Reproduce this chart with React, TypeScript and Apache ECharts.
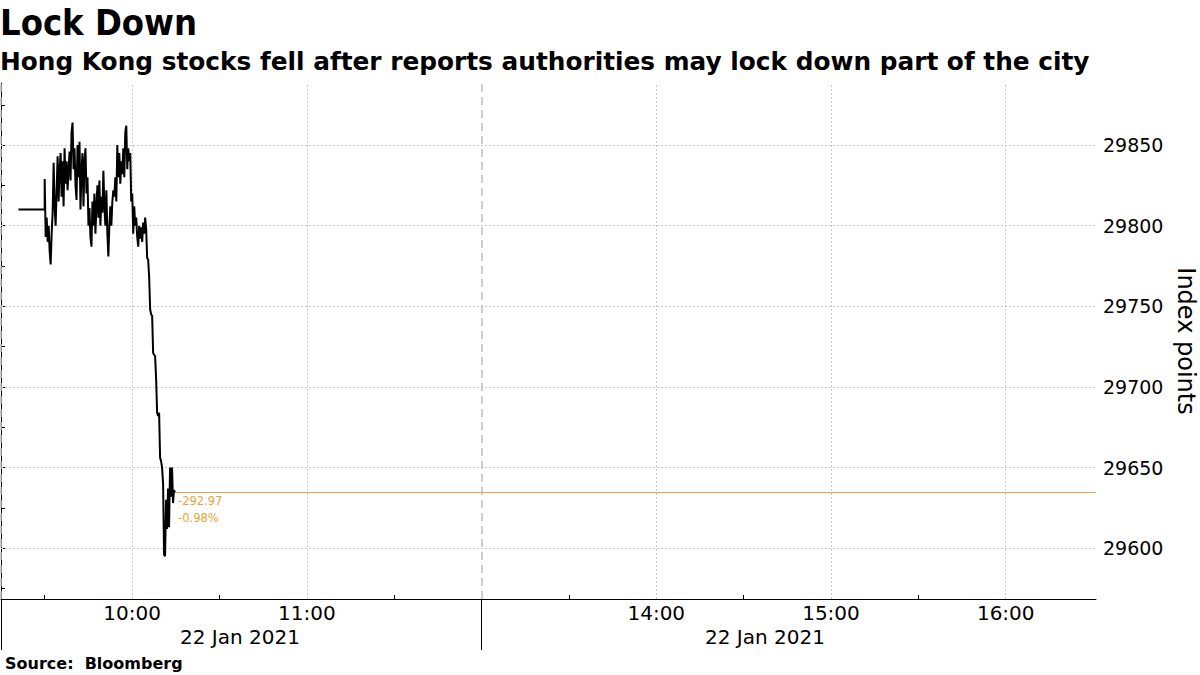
import React, { useEffect, useRef } from 'react';
import * as echarts from 'echarts';

// ---- texts ----
const TITLE = 'Lock Down';
const SUBTITLE = 'Hong Kong stocks fell after reports authorities may lock down part of the city';
const SOURCE = 'Source:  Bloomberg';
const DATE_LABEL = '22 Jan 2021';
const AXIS_NAME = 'Index points';

// ---- data ----
const PREV_CLOSE = 29927.76;
const PRE_OPEN_TIMES = ['09:21', '09:30'];
const PRE_OPEN_VALUES = [29810, 29810];
const TRADE_START = '09:30';
const SAMPLE_SECONDS = 20.5;
const prices = [
  29829, 29793, 29805, 29790, 29800, 29784, 29776, 29795, 29808, 29839,
  29812, 29800, 29822, 29843, 29815, 29835, 29845, 29818, 29840, 29812,
  29848, 29826, 29840, 29822, 29835, 29846, 29828, 29858, 29864, 29835,
  29848, 29825, 29816, 29850, 29830, 29852, 29810, 29835, 29845, 29812,
  29840, 29848, 29820, 29830, 29800, 29811, 29793, 29787, 29815, 29800,
  29820, 29795, 29812, 29825, 29805, 29828, 29800, 29818, 29808, 29834,
  29812, 29800, 29822, 29795, 29781, 29800, 29812, 29800, 29815, 29822,
  29818, 29830, 29815, 29850, 29830, 29845, 29826, 29840, 29832, 29848,
  29830, 29858, 29862, 29835, 29848, 29840, 29845, 29815, 29820, 29795,
  29812, 29800, 29805, 29793, 29787, 29800, 29792, 29799, 29790, 29802,
  29795, 29805, 29798, 29780, 29779, 29768, 29748, 29745, 29744, 29721,
  29720, 29719, 29705, 29684, 29682, 29684, 29656, 29654, 29650, 29640,
  29596, 29595, 29630, 29612, 29637, 29613, 29650, 29632, 29650, 29628,
  29636, 29634.79,
];

// ---- axes ----
const AXIS_START = '09:15';
const AXIS_END = '16:31';
const LUNCH_START = '12:00';
const LUNCH_END = '13:00';
const hourLabels = ['10:00', '11:00', '14:00', '15:00', '16:00'];
const halfHourTicks = ['09:30', '10:30', '11:30', '13:30', '14:30', '15:30'];
const sessionStarts = ['09:15', '13:00'];
const yLabelValues = [29600, 29650, 29700, 29750, 29800, 29850];
const yTickValues = [29575, 29600, 29625, 29650, 29675, 29700, 29725, 29750, 29775, 29800, 29825, 29850, 29875];
const Y_MIN = 29568.5;
const Y_MAX = 29888.5;

const FONT = '"DejaVu Sans", sans-serif';
const FONT_COND = '"DejaVu Sans Condensed", "DejaVu Sans", sans-serif';
const ORANGE = '#E8A33D';

const clock = (s: string) => {
  const [h, m] = s.split(':').map(Number);
  return h * 60 + m;
};
const BASE = clock(AXIS_START);
const LUNCH = clock(LUNCH_END) - clock(LUNCH_START);
const toAxis = (s: string) => {
  const m = clock(s);
  return m >= clock(LUNCH_END) ? m - BASE - LUNCH : m - BASE;
};
const fromAxis = (v: number) => {
  let m = v + BASE;
  if (m > clock(LUNCH_START) + 0.001) m += LUNCH;
  m = Math.round(m);
  const h = Math.floor(m / 60);
  const mm = m % 60;
  return `${String(h).padStart(2, '0')}:${String(mm).padStart(2, '0')}`;
};

export default function App() {
  const ref = useRef<HTMLDivElement>(null);
  useEffect(() => {
    if (!ref.current) return;
    const chart = echarts.init(ref.current, null, { renderer: 'svg' });

    const preData = PRE_OPEN_TIMES.map((t, i) => [toAxis(t), PRE_OPEN_VALUES[i]]);
    const t0 = toAxis(TRADE_START);
    const tradeData = prices.map((v, i) => [t0 + (i * SAMPLE_SECONDS) / 60, v]);
    const lineData = [...preData, ...tradeData];
    const last = tradeData[tradeData.length - 1];
    const change = last[1] - PREV_CLOSE;
    const pct = (change / PREV_CLOSE) * 100;
    const xMax = toAxis(AXIS_END);

    const gridStyle = { color: '#cacaca', width: 1, type: [2, 2] as any };
    const sessionStyle = { color: '#bdbdbd', width: 1.5, type: [8, 5] as any };

    chart.setOption({
      animation: false,
      backgroundColor: '#fff',
      grid: { left: 1, right: 104, top: 83, bottom: 76, containLabel: false, outerBoundsMode: 'none' },
      xAxis: {
        type: 'value',
        min: 0,
        max: xMax,
        axisLine: { show: true, lineStyle: { color: '#000', width: 1 } },
        axisTick: {
          show: true,
          inside: true,
          length: 4,
          customValues: halfHourTicks.map(toAxis),
          lineStyle: { color: '#000', width: 1 },
        },
        axisLabel: {
          customValues: hourLabels.map(toAxis),
          formatter: (v: number) => fromAxis(v),
          color: '#000',
          fontSize: 20,
          fontFamily: FONT,
          margin: 4,
        },
        splitLine: { show: false },
      },
      yAxis: {
        type: 'value',
        position: 'right',
        min: Y_MIN,
        max: Y_MAX,
        name: AXIS_NAME,
        nameLocation: 'middle',
        nameRotate: -90,
        nameGap: 76,
        nameTextStyle: { color: '#000', fontSize: 24, fontFamily: FONT },
        axisLine: { show: true, lineStyle: { color: '#000', width: 1 } },
        axisTick: {
          show: true,
          inside: false,
          length: 4,
          customValues: yTickValues,
          lineStyle: { color: '#000', width: 1 },
        },
        axisLabel: {
          customValues: yLabelValues,
          formatter: (v: number) => String(v),
          color: '#000',
          fontSize: 19,
          fontFamily: FONT,
          margin: 7,
        },
        splitLine: { show: false },
      },
      series: [
        {
          type: 'line',
          z: 1,
          data: [],
          silent: true,
          markLine: {
            silent: true,
            z: 1,
            symbol: ['none', 'none'],
            label: { show: false },
            data: [
              ...yLabelValues.map((v) => ({ yAxis: v, lineStyle: gridStyle })),
              ...hourLabels.map((h) => ({ xAxis: toAxis(h), lineStyle: gridStyle })),
              ...sessionStarts.map((h) => ({ xAxis: toAxis(h), lineStyle: sessionStyle })),
            ],
          },
        },
        {
          type: 'line',
          z: 3,
          data: lineData,
          showSymbol: false,
          symbol: 'none',
          lineStyle: { color: '#000', width: 2 },
          markLine: {
            silent: true,
            z: 2,
            symbol: ['none', 'none'],
            label: { show: false },
            lineStyle: { color: ORANGE, width: 1, type: 'solid' },
            data: [[{ coord: [last[0], last[1]] }, { coord: [xMax, last[1]] }]],
          },
          markPoint: {
            silent: true,
            symbol: 'circle',
            symbolSize: 0.01,
            data: [{ coord: [last[0], last[1]] }],
            label: {
              show: true,
              position: [3, 0],
              align: 'left',
              verticalAlign: 'top',
              formatter: `${change.toFixed(2)}\n${pct.toFixed(2)}%`,
              color: ORANGE,
              fontSize: 11.5,
              lineHeight: 17,
              fontFamily: FONT,
            },
          },
        },
      ],
      graphic: [
        {
          type: 'text', x: 0, y: 22,
          style: { text: TITLE, font: `bold 36px ${FONT_COND}`, fill: '#000', align: 'left', verticalAlign: 'middle' },
        },
        {
          type: 'text', x: 0, y: 61,
          style: { text: SUBTITLE, font: `bold 24.8px ${FONT}`, fill: '#000', align: 'left', verticalAlign: 'middle' },
        },
        {
          type: 'text', x: 5, y: 663,
          style: { text: SOURCE, font: `bold 16px ${FONT}`, fill: '#000', align: 'left', verticalAlign: 'middle' },
        },
        {
          type: 'text', x: 240, y: 637,
          style: { text: DATE_LABEL, font: `20px ${FONT}`, fill: '#000', align: 'center', verticalAlign: 'middle' },
        },
        {
          type: 'text', x: 765, y: 637,
          style: { text: DATE_LABEL, font: `20px ${FONT}`, fill: '#000', align: 'center', verticalAlign: 'middle' },
        },
        { type: 'line', shape: { x1: 1.5, y1: 599, x2: 1.5, y2: 650 }, style: { stroke: '#000', lineWidth: 1 } },
        { type: 'line', shape: { x1: 481.5, y1: 599, x2: 481.5, y2: 650 }, style: { stroke: '#000', lineWidth: 1 } },
      ],
    });
    return () => chart.dispose();
  }, []);
  return (
    <div
      ref={ref}
      style={{ position: 'fixed', left: 0, top: 0, width: 1200, height: 675, background: '#fff' }}
    />
  );
}
